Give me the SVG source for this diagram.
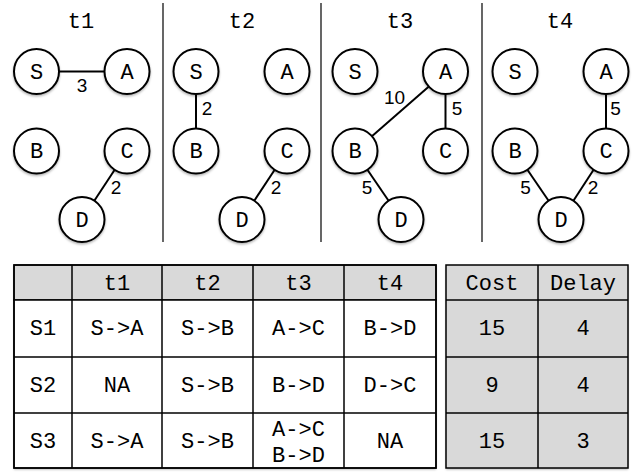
<svg xmlns="http://www.w3.org/2000/svg" width="644" height="474" viewBox="0 0 644 474">
<defs>
<filter id="sh" x="-20%" y="-20%" width="140%" height="140%">
<feDropShadow dx="0" dy="1.5" stdDeviation="1.2" flood-color="#000" flood-opacity="0.3"/>
</filter>
</defs>
<style>
.n{fill:#fff;stroke:#000;stroke-width:2;filter:url(#sh)}
.nt{font-family:"Liberation Mono","Courier New",monospace;font-size:22px;text-anchor:middle;fill:#000}
.e{stroke:#000;stroke-width:2;fill:none}
.el{font-family:"Liberation Sans",Arial,sans-serif;font-size:19px;text-anchor:middle;fill:#000}
.div{stroke:#000;stroke-width:1.2}
.hd{fill:#d9d9d9;stroke:#000;stroke-width:1.5}
.wc{fill:#fff;stroke:#000;stroke-width:1.5}
.gc{fill:#d9d9d9;stroke:#000;stroke-width:1.5}
.tl{stroke:#000;stroke-width:1.5}
</style>
<rect width="644" height="474" fill="#fff"/>
<g id="dividers">
<line class="div" x1="163" y1="3" x2="163" y2="242"/>
<line class="div" x1="321" y1="3" x2="321" y2="242"/>
<line class="div" x1="482" y1="3" x2="482" y2="242"/>
</g>
<g id="titles">
<text class="nt" x="81" y="28">t1</text>
<text class="nt" x="242" y="28">t2</text>
<text class="nt" x="400" y="28">t3</text>
<text class="nt" x="560" y="28">t4</text>
</g>
<g id="connectors">
<line class="e" x1="59" y1="71.5" x2="104.5" y2="71.5"/>
<line class="e" x1="114.7" y1="169.8" x2="94.3" y2="200.7"/>
<line class="e" x1="196" y1="94.5" x2="196" y2="128.5"/>
<line class="e" x1="274.7" y1="169.8" x2="254.3" y2="200.7"/>
<line class="e" x1="428.6" y1="86.8" x2="371.9" y2="136.2"/>
<line class="e" x1="445.5" y1="94.5" x2="445.5" y2="128.5"/>
<line class="e" x1="367.4" y1="169.8" x2="388.6" y2="200.7"/>
<line class="e" x1="606" y1="94.5" x2="606" y2="128.5"/>
<line class="e" x1="527.4" y1="169.8" x2="548.6" y2="200.7"/>
<line class="e" x1="593.6" y1="169.8" x2="573.4" y2="200.7"/>
<text class="el" x="82" y="92">3</text>
<text class="el" x="116" y="194">2</text>
<text class="el" x="207" y="115">2</text>
<text class="el" x="276" y="194">2</text>
<text class="el" x="394.5" y="104">10</text>
<text class="el" x="457" y="115">5</text>
<text class="el" x="367" y="194">5</text>
<text class="el" x="615.5" y="115">5</text>
<text class="el" x="525.5" y="194">5</text>
<text class="el" x="593" y="194">2</text>
</g>
<g id="t1-S"><circle class="n" cx="36.5" cy="71.5" r="22.5"/><text class="nt" x="36.5" y="78.5">S</text></g>
<g id="t1-A"><circle class="n" cx="127" cy="71.5" r="22.5"/><text class="nt" x="127" y="78.5">A</text></g>
<g id="t1-B"><circle class="n" cx="36.5" cy="151" r="22.5"/><text class="nt" x="36.5" y="158">B</text></g>
<g id="t1-C"><circle class="n" cx="127" cy="151" r="22.5"/><text class="nt" x="127" y="158">C</text></g>
<g id="t1-D"><circle class="n" cx="82" cy="219.5" r="22.5"/><text class="nt" x="82" y="226.5">D</text></g>
<g id="t2-S"><circle class="n" cx="196" cy="71.5" r="22.5"/><text class="nt" x="196" y="78.5">S</text></g>
<g id="t2-A"><circle class="n" cx="287" cy="71.5" r="22.5"/><text class="nt" x="287" y="78.5">A</text></g>
<g id="t2-B"><circle class="n" cx="196" cy="151" r="22.5"/><text class="nt" x="196" y="158">B</text></g>
<g id="t2-C"><circle class="n" cx="287" cy="151" r="22.5"/><text class="nt" x="287" y="158">C</text></g>
<g id="t2-D"><circle class="n" cx="242" cy="219.5" r="22.5"/><text class="nt" x="242" y="226.5">D</text></g>
<g id="t3-S"><circle class="n" cx="355" cy="71.5" r="22.5"/><text class="nt" x="355" y="78.5">S</text></g>
<g id="t3-A"><circle class="n" cx="445.5" cy="71.5" r="22.5"/><text class="nt" x="445.5" y="78.5">A</text></g>
<g id="t3-B"><circle class="n" cx="355" cy="151" r="22.5"/><text class="nt" x="355" y="158">B</text></g>
<g id="t3-C"><circle class="n" cx="445.5" cy="151" r="22.5"/><text class="nt" x="445.5" y="158">C</text></g>
<g id="t3-D"><circle class="n" cx="401" cy="219.5" r="22.5"/><text class="nt" x="401" y="226.5">D</text></g>
<g id="t4-S"><circle class="n" cx="515" cy="71.5" r="22.5"/><text class="nt" x="515" y="78.5">S</text></g>
<g id="t4-A"><circle class="n" cx="606" cy="71.5" r="22.5"/><text class="nt" x="606" y="78.5">A</text></g>
<g id="t4-B"><circle class="n" cx="515" cy="151" r="22.5"/><text class="nt" x="515" y="158">B</text></g>
<g id="t4-C"><circle class="n" cx="606" cy="151" r="22.5"/><text class="nt" x="606" y="158">C</text></g>
<g id="t4-D"><circle class="n" cx="561" cy="219.5" r="22.5"/><text class="nt" x="561" y="226.5">D</text></g>
<g id="schedule-table">
<rect x="14" y="265" width="422" height="203" fill="#fff" filter="url(#sh)"/>
<rect class="hd" x="14" y="265" width="422" height="35"/>
<rect class="wc" x="14" y="300" width="422" height="168" fill="none"/>
<line class="tl" x1="14" y1="357" x2="436" y2="357"/>
<line class="tl" x1="14" y1="413" x2="436" y2="413"/>
<line class="tl" x1="72" y1="265" x2="72" y2="468"/>
<line class="tl" x1="162" y1="265" x2="162" y2="468"/>
<line class="tl" x1="253" y1="265" x2="253" y2="468"/>
<line class="tl" x1="344" y1="265" x2="344" y2="468"/>
<rect x="14" y="265" width="422" height="203" fill="none" stroke="#000" stroke-width="1.5"/>
<text class="nt" x="117" y="290">t1</text>
<text class="nt" x="207.5" y="290">t2</text>
<text class="nt" x="298.5" y="290">t3</text>
<text class="nt" x="390" y="290">t4</text>
<text class="nt" x="43" y="335">S1</text>
<text class="nt" x="117" y="335">S-&gt;A</text>
<text class="nt" x="207.5" y="335">S-&gt;B</text>
<text class="nt" x="298.5" y="335">A-&gt;C</text>
<text class="nt" x="390" y="335">B-&gt;D</text>
<text class="nt" x="43" y="392">S2</text>
<text class="nt" x="117" y="392">NA</text>
<text class="nt" x="207.5" y="392">S-&gt;B</text>
<text class="nt" x="298.5" y="392">B-&gt;D</text>
<text class="nt" x="390" y="392">D-&gt;C</text>
<text class="nt" x="43" y="447.5">S3</text>
<text class="nt" x="117" y="447.5">S-&gt;A</text>
<text class="nt" x="207.5" y="447.5">S-&gt;B</text>
<text class="nt" x="298.5" y="436">A-&gt;C</text>
<text class="nt" x="298.5" y="462">B-&gt;D</text>
<text class="nt" x="390" y="447.5">NA</text>
</g>
<g id="metrics-table">
<rect x="446" y="265" width="182" height="203" fill="#d9d9d9" filter="url(#sh)"/>
<line class="tl" x1="446" y1="300" x2="628" y2="300"/>
<line class="tl" x1="446" y1="357" x2="628" y2="357"/>
<line class="tl" x1="446" y1="413" x2="628" y2="413"/>
<line class="tl" x1="538" y1="265" x2="538" y2="468"/>
<rect x="446" y="265" width="182" height="203" fill="none" stroke="#000" stroke-width="1.5"/>
<text class="nt" x="492" y="290">Cost</text>
<text class="nt" x="583" y="290">Delay</text>
<text class="nt" x="492" y="335">15</text>
<text class="nt" x="583" y="335">4</text>
<text class="nt" x="492" y="392">9</text>
<text class="nt" x="583" y="392">4</text>
<text class="nt" x="492" y="447.5">15</text>
<text class="nt" x="583" y="447.5">3</text>
</g>
</svg>
